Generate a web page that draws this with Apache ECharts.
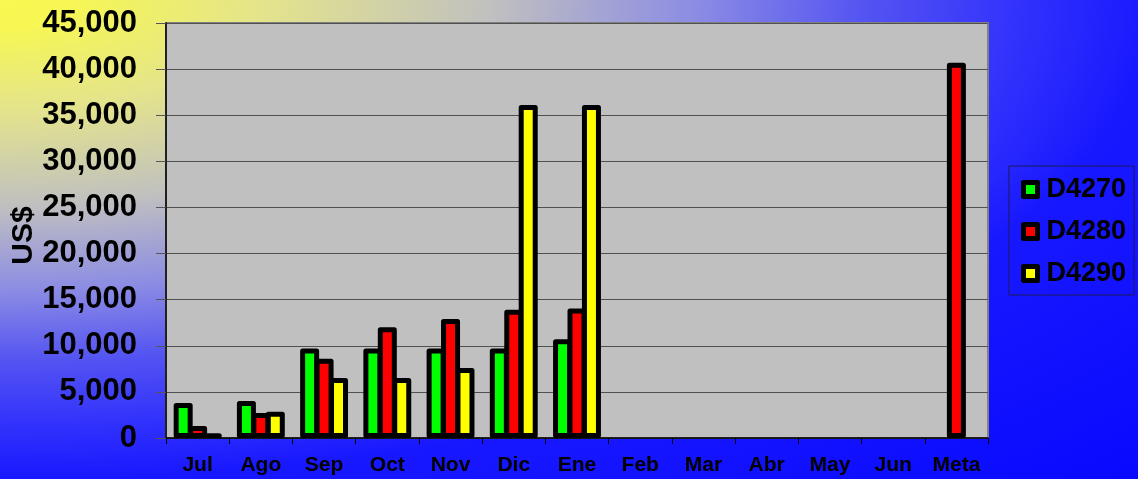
<!DOCTYPE html>
<html>
<head>
<meta charset="utf-8">
<script src="https://cdn.jsdelivr.net/npm/echarts@6/dist/echarts.min.js"></script>
<style>
html,body{margin:0;padding:0;}
#c{width:1138px;height:479px;}
</style>
</head>
<body>
<div id="c"></div>
<script>
var categories = ['Jul','Ago','Sep','Oct','Nov','Dic','Ene','Feb','Mar','Abr','May','Jun','Meta'];
var seriesNames = ['D4270','D4280','D4290'];
var d4270 = [3800, 4000, 9700, 9700, 9700, 9700, 10700, null, null, null, null, null, null];
var d4280 = [1300, 2700, 8600, 12000, 12900, 13900, 14050, null, null, null, null, null, 40700];
var d4290 = [500, 2850, 6500, 6500, 7600, 36100, 36100, null, null, null, null, null, null];
var seriesColors = ['#00ff00', '#ff0000', '#ffff00'];
var yTicks = { min: 0, max: 45000, interval: 5000 };

var FONT = '"Liberation Sans", Arial, sans-serif';
var chart = echarts.init(document.getElementById('c'), null, {renderer: 'canvas'});
var sx = 2.4;
var R = 680;
var dataSets = [d4270, d4280, d4290];

chart.setOption({
  animation: false,
  backgroundColor: '#3030fc',
  graphic: [{
    type: 'rect',
    z: -100,
    silent: true,
    scaleX: sx,
    shape: {x: 0, y: 0, width: 1138 / sx + 2, height: 479},
    style: {
      fill: {
        type: 'radial', x: 0, y: 0, r: R, global: true,
        colorStops: [
          {offset: 0, color: '#f8f850'},
          {offset: 30/R, color: '#f6f655'},
          {offset: 110/R, color: '#e4e48c'},
          {offset: 205/R, color: '#c0c0c0'},
          {offset: 290/R, color: '#8c8ce4'},
          {offset: 360/R, color: '#5454f2'},
          {offset: 420/R, color: '#3434fc'},
          {offset: 480/R, color: '#1818ff'},
          {offset: 1, color: '#0808ff'}
        ]
      }
    }
  }],
  grid: {
    left: 166, right: 150, top: 23, bottom: 41,
    outerBoundsMode: 'none',
    containLabel: false,
    show: true, backgroundColor: '#c0c0c0', borderColor: '#808080', borderWidth: 2
  },
  legend: {
    orient: 'vertical',
    left: 1009, top: 166,
    padding: [10, 8, 8, 12],
    itemWidth: 14, itemHeight: 14, itemGap: 15,
    icon: 'rect',
    borderColor: '#1a1a5a', borderWidth: 1,
    itemStyle: {borderColor: '#000', borderWidth: 5},
    textStyle: {fontFamily: FONT, fontWeight: 'bold', fontSize: 27, lineHeight: 27, color: '#000', padding: [0, 0, 0, 4]},
    data: seriesNames
  },
  xAxis: {
    type: 'category',
    data: categories,
    axisLine: {lineStyle: {color: '#000', width: 1.5}},
    axisTick: {show: true, length: 6, lineStyle: {color: '#000'}},
    axisLabel: {fontFamily: FONT, fontWeight: 'bold', fontSize: 21, color: '#000', margin: 17, interval: 0},
    splitLine: {show: false}
  },
  yAxis: {
    type: 'value',
    min: yTicks.min, max: yTicks.max, interval: yTicks.interval,
    name: 'US$',
    nameLocation: 'middle',
    nameRotate: 90,
    nameGap: 127,
    nameMoveOverlap: false,
    nameTextStyle: {fontFamily: FONT, fontWeight: 'bold', fontSize: 30, color: '#000', padding: [0, 10, 0, 0]},
    axisLine: {show: true, lineStyle: {color: '#000', width: 1.5}},
    axisTick: {show: true, length: 10, lineStyle: {color: '#555'}},
    axisLabel: {
      fontFamily: FONT, fontWeight: 'bold', fontSize: 31, color: '#000', margin: 29,
      formatter: function (v) { return v.toLocaleString('en-US'); }
    },
    splitLine: {show: true, lineStyle: {color: '#505050', width: 1}}
  },
  series: seriesNames.map(function (name, i) {
    return {
      name: name,
      type: 'bar',
      data: dataSets[i],
      barWidth: 19,
      barGap: '-24%',
      itemStyle: {color: seriesColors[i], borderColor: '#000', borderWidth: 5, borderJoin: 'round'}
    };
  })
});
</script>
</body>
</html>
